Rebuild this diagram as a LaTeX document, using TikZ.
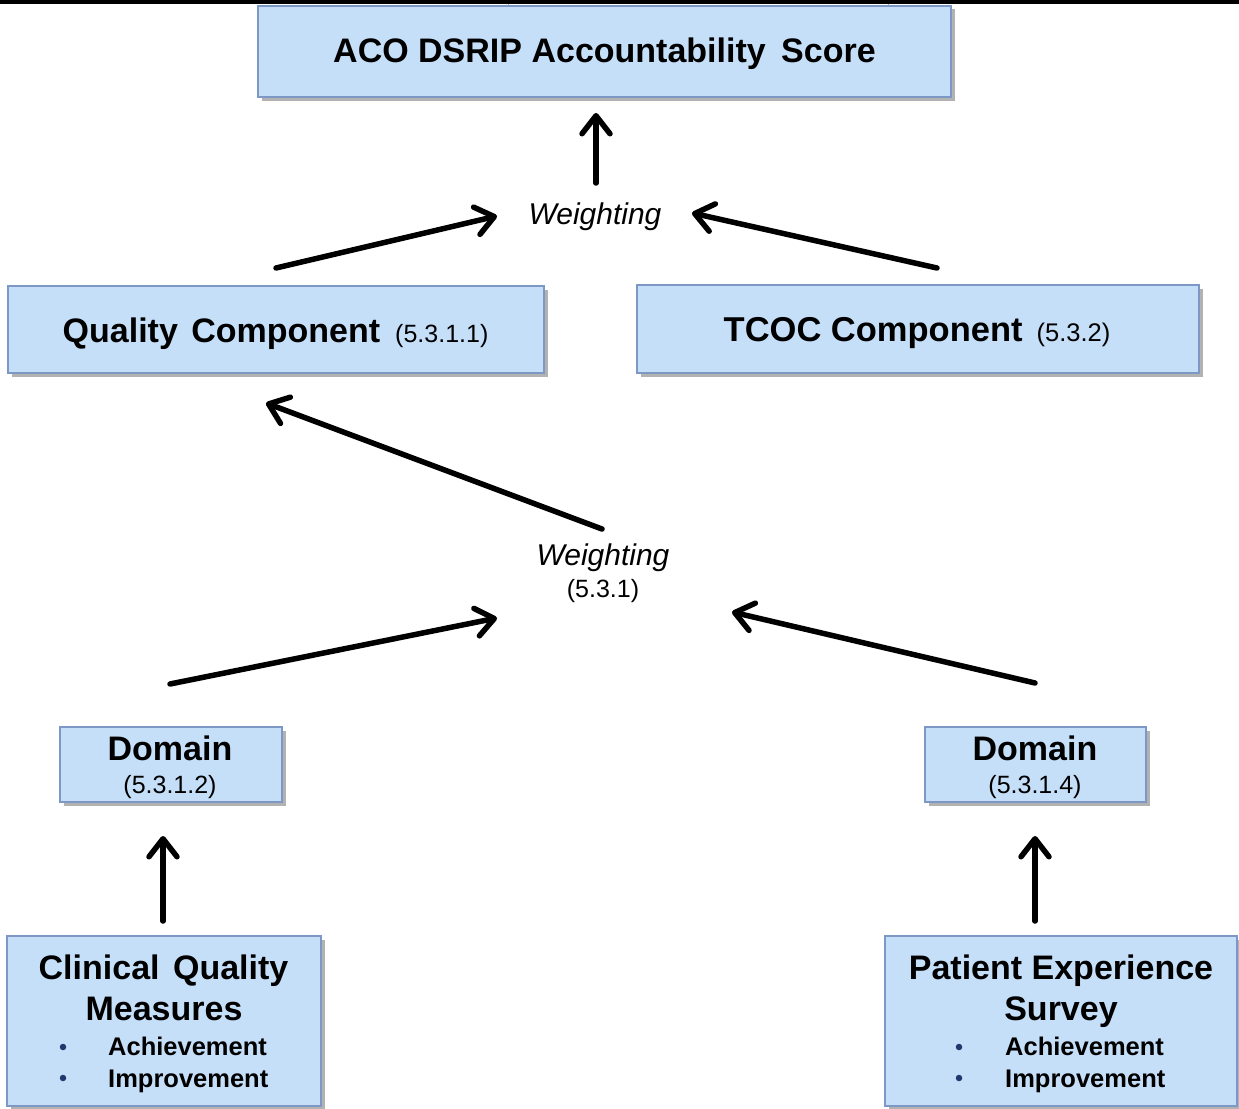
\documentclass[tikz,border=0pt]{standalone}
\usepackage{fontspec}
\setmainfont{Liberation Sans}
\usetikzlibrary{arrows.meta,shadows}
\definecolor{boxfill}{RGB}{198,223,249}
\definecolor{boxline}{RGB}{125,152,196}
\definecolor{bulletc}{RGB}{31,56,110}
\newcommand\fsz[1]{\fontsize{#1}{#1}\selectfont}
\begin{document}
\begin{tikzpicture}[x=1pt,y=-1pt,
 box/.style={draw=boxline, line width=1.3pt, fill=boxfill, inner sep=0pt,
   drop shadow={shadow xshift=3.5pt, shadow yshift=-3.5pt, opacity=0.5, fill=black!60}},
 arr/.style={line width=5.5pt, -{Straight Barb[length=18pt,width=28pt,round]}, line cap=round, line join=round},
 lbl/.style={inner sep=0pt, anchor=base},
 hd/.style={lbl, font=\fsz{34}\bfseries},
 num/.style={lbl, font=\fsz{25}},
 wt/.style={lbl, font=\fsz{30}\itshape},
 itm/.style={inner sep=0pt, anchor=base west, font=\fsz{25.5}\bfseries},
 dot/.style={circle, fill=bulletc, inner sep=0pt, minimum size=6.5pt}
]
\fill[white] (0,0) rectangle (1239,1108);
\useasboundingbox (0,0) rectangle (1239,1108);
\draw[gray!60, line width=0.8pt] (508,0) -- (508,7) (888,0) -- (888,7);
\draw[line width=3.5pt] (0,2) -- (1239,2);

% boxes
\node[box, minimum width=693pt, minimum height=91pt] (top) at (604.5,51.5) {};
\node[box, minimum width=536pt, minimum height=87pt] (qual) at (276,329.5) {};
\node[box, minimum width=562pt, minimum height=88pt] (tcoc) at (918,329) {};
\node[box, minimum width=222pt, minimum height=75pt] (domL) at (171,764.5) {};
\node[box, minimum width=221pt, minimum height=75pt] (domR) at (1035.5,764.5) {};
\node[box, minimum width=314pt, minimum height=170pt] (cqm) at (164,1021) {};
\node[box, minimum width=352pt, minimum height=170pt] (pes) at (1061,1021) {};

% texts
\node[hd] (topT) at (604.5,63) {ACO DSRIP Accountability\hspace{6pt} Score};
\node[hd] (qualT) at (275.5,342) {Quality\hspace{4pt} Component\hspace{15pt}{\mdseries\fsz{25}(5.3.1.1)}};
\node[hd, font=\fsz{34.5}\bfseries] (tcocT) at (917,341) {TCOC Component\hspace{14pt}{\mdseries\fsz{25.5}(5.3.2)}};
\node[wt] (w1) at (595,224) {Weighting};
\node[wt] (w2) at (603,565) {Weighting};
\node[num] (w2n) at (603,597) {(5.3.1)};
\node[hd] (domLT) at (170,760) {Domain};
\node[num] (domLn) at (170,793) {(5.3.1.2)};
\node[hd] (domRT) at (1035,760) {Domain};
\node[num] (domRn) at (1035,793) {(5.3.1.4)};
\node[hd] (cqm1) at (163.5,979) {Clinical\hspace{4pt} Quality};
\node[hd] (cqm2) at (164,1020) {Measures};
\node[dot] (cqmb1) at (63,1047) {};
\node[dot] (cqmb2) at (63,1078) {};
\node[itm] (cqma) at (108,1055) {Achievement};
\node[itm] (cqmi) at (108,1087) {Improvement};
\node[hd] (pes1) at (1061,979) {Patient Experience};
\node[hd] (pes2) at (1061,1020) {Survey};
\node[dot] (pesb1) at (959,1047) {};
\node[dot] (pesb2) at (959,1078) {};
\node[itm] (pesa) at (1005,1055) {Achievement};
\node[itm] (pesi) at (1005,1087) {Improvement};

% arrow ends
\coordinate (a1s) at (596,183); \coordinate (a1e) at (596,113);
\coordinate (a2s) at (276,268); \coordinate (a2e) at (497,216);
\coordinate (a3s) at (937,268); \coordinate (a3e) at (692,213);
\coordinate (a4s) at (602,529); \coordinate (a4e) at (266,403);
\coordinate (a5s) at (170,684); \coordinate (a5e) at (497,618);
\coordinate (a6s) at (1035,683); \coordinate (a6e) at (732,612);
\coordinate (a7s) at (163,921); \coordinate (a7e) at (163,836);
\coordinate (a8s) at (1035,921); \coordinate (a8e) at (1035,836);
\foreach \i in {1,...,8} { \draw[arr] (a\i s) -- (a\i e); }
\end{tikzpicture}
\end{document}
